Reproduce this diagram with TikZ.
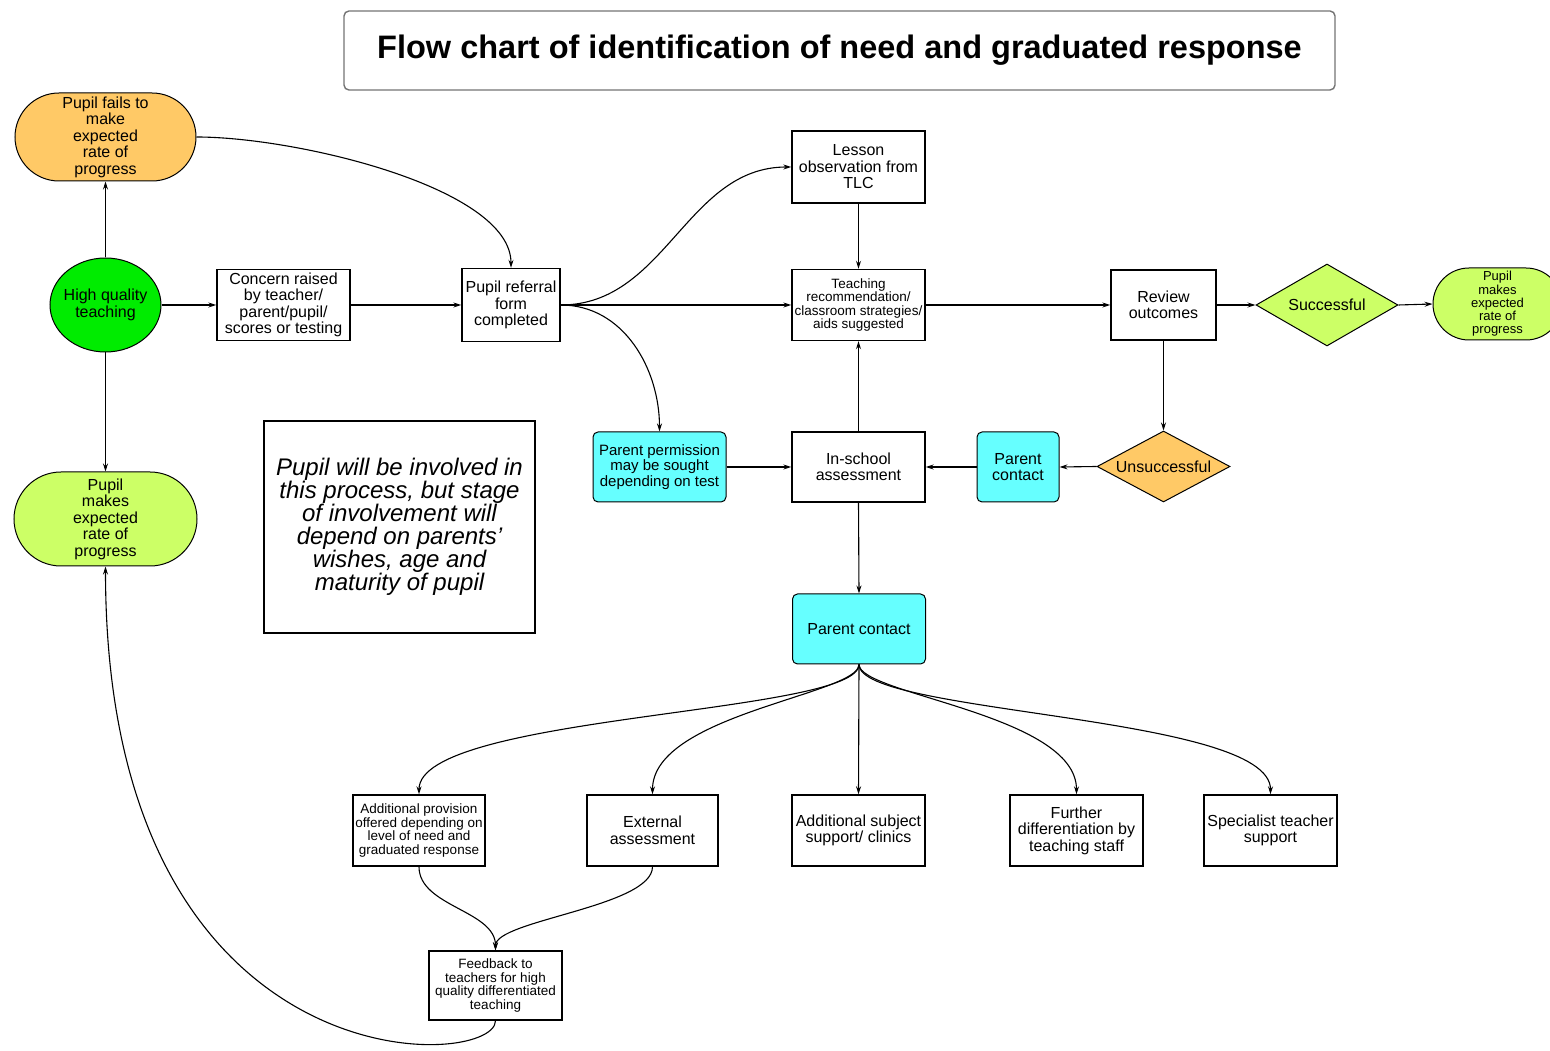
\documentclass[tikz,border=0pt]{standalone}
\usepackage{fontspec}
\setmainfont{Liberation Sans}
\usetikzlibrary{shapes.geometric,arrows.meta}
\definecolor{tanorange}{RGB}{255,201,102}
\definecolor{brightgreen}{RGB}{0,236,0}
\definecolor{limefill}{RGB}{204,255,102}
\definecolor{aquafill}{RGB}{102,255,255}
\tikzset{
  plain/.style={draw, line width=1.4pt, fill=white, align=center, inner sep=1pt, minimum width=133pt, minimum height=71pt, font=\fontsize{16}{16.5}\selectfont},
  tiny/.style={font=\fontsize{13.5}{13.5}\selectfont},
  term/.style={draw, line width=1pt, align=center, inner sep=1pt, font=\fontsize{16}{16.5}\selectfont},
  choice/.style={diamond, draw, line width=1pt, inner sep=0pt, align=center, font=\fontsize{16}{16.5}\selectfont},
  soft/.style={plain, fill=aquafill, rounded corners=5pt, line width=1pt},
  link/.style={line width=1.1pt, -{Stealth[length=8pt,width=5pt]}}
}
\begin{document}
\begin{tikzpicture}[x=1pt,y=1pt]
\useasboundingbox (0,0) rectangle (1550,1050);
\node[draw=black!55, line width=1.4pt, rounded corners=5pt, minimum width=991pt, minimum height=79pt, font=\fontsize{32.5}{34}\selectfont\bfseries] (title) at (839.5,999.5) {Flow chart of identification of need and graduated response};
\node[term, fill=tanorange, minimum width=181pt, minimum height=88pt, rounded corners=44pt] (fails) at (105.5,913) {Pupil fails to\\make\\expected\\rate of\\progress};
\node[ellipse, draw, line width=1pt, fill=brightgreen, align=center, inner xsep=-3pt, inner ysep=0pt, minimum width=111pt, minimum height=94pt, font=\fontsize{16}{16.5}\selectfont] (hqt) at (105.5,745) {High quality\\teaching};
\node[term, fill=limefill, minimum width=183pt, minimum height=94pt, rounded corners=47pt] (makesL) at (105.5,531) {Pupil\\makes\\expected\\rate of\\progress};
\node[plain] (concern) at (283.5,745) {Concern raised\\by teacher/\\parent/pupil/\\scores or testing};
\node[plain, minimum width=98pt, minimum height=73pt] (referral) at (511,745) {Pupil referral\\form\\completed};
\node[plain, minimum height=72pt] (lesson) at (858.5,883) {Lesson\\observation from\\TLC};
\node[plain, tiny] (teachrec) at (858.5,745) {Teaching\\recommendation/\\classroom strategies/\\aids suggested};
\node[plain, minimum width=105pt, minimum height=70pt] (review) at (1163.5,745) {Review\\outcomes};
\node[choice, fill=limefill, aspect=1.73, minimum width=142pt, minimum height=82pt] (success) at (1327,745) {Successful};
\node[term, fill=limefill, minimum width=129pt, minimum height=72pt, rounded corners=36pt, font=\fontsize{13}{13.2}\selectfont] (makesR) at (1497.5,746) {Pupil\\makes\\expected\\rate of\\progress};
\node[choice, fill=tanorange, aspect=1.87, minimum width=133pt, minimum height=71pt] (unsucc) at (1163.5,583.5) {Unsuccessful};
\node[soft, minimum width=82pt, minimum height=70pt] (pcsmall) at (1018,583) {Parent\\contact};
\node[plain, minimum height=70pt] (inschool) at (858.5,583) {In-school\\assessment};
\node[soft, minimum height=70pt, font=\fontsize{15}{15.5}\selectfont] (permit) at (659.5,583) {Parent permission\\may be sought\\depending on test};
\node[plain, minimum width=271pt, minimum height=212pt, font=\fontsize{24}{23}\selectfont\itshape] (note) at (399.5,523) {Pupil will be involved in\\this process, but stage\\of involvement will\\depend on parents'\\wishes, age and\\maturity of pupil};
\node[soft, minimum height=70pt] (pcbig) at (859,421) {Parent contact};
\node[plain, tiny, minimum width=132pt] (addprov) at (419,219.5) {Additional provision\\offered depending on\\level of need and\\graduated response};
\node[plain, minimum width=131pt] (external) at (652.5,219.5) {External\\assessment};
\node[plain] (addsubj) at (858.5,219.5) {Additional subject\\support/ clinics};
\node[plain] (further) at (1076.5,219.5) {Further\\differentiation by\\teaching staff};
\node[plain] (specialist) at (1270.5,219.5) {Specialist teacher\\support};
\node[plain, tiny, minimum height=69pt] (feedback) at (495.5,64.5) {Feedback to\\teachers for high\\quality differentiated\\teaching};
\draw[link] (hqt.north) -- (fails.south);
\draw[link] (hqt.south) -- (makesL.north);
\draw[link] (hqt.east) -- (concern.west);
\draw[link] (concern.east) -- (referral.west);
\draw[link] (fails.east) .. controls +(100,0) and +(0,80) .. (referral.north);
\draw[link] (referral.east) to[out=0,in=180] (lesson.west);
\draw[link] (referral.east) -- (teachrec.west);
\draw[link] (referral.east) to[out=0,in=90] (permit.north);
\draw[link] (lesson.south) -- (teachrec.north);
\draw[link] (inschool.north) -- (teachrec.south);
\draw[link] (teachrec.east) -- (review.west);
\draw[link] (review.east) -- (success.west);
\draw[link] (success.east) -- (makesR.west);
\draw[link] (review.south) -- (unsucc.north);
\draw[link] (unsucc.west) -- (pcsmall.east);
\draw[link] (pcsmall.west) -- (inschool.east);
\draw[link] (permit.east) -- (inschool.west);
\draw[link] (inschool.south) -- (pcbig.north);
\draw[link] (pcbig.south) .. controls +(0,-50) and +(0,80) .. (addprov.north);
\draw[link] (pcbig.south) .. controls +(0,-30) and +(0,80) .. (external.north);
\draw[link] (pcbig.south) -- (addsubj.north);
\draw[link] (pcbig.south) .. controls +(0,-30) and +(0,80) .. (further.north);
\draw[link] (pcbig.south) .. controls +(0,-50) and +(0,80) .. (specialist.north);
\draw[link] (addprov.south) .. controls +(0,-40) and +(0,40) .. (feedback.north);
\draw[link] (external.south) .. controls +(0,-40) and +(0,30) .. (feedback.north);
\draw[link] (feedback.south) .. controls +(0,-50) and +(0,-524) .. (makesL.south);
\end{tikzpicture}
\end{document}
